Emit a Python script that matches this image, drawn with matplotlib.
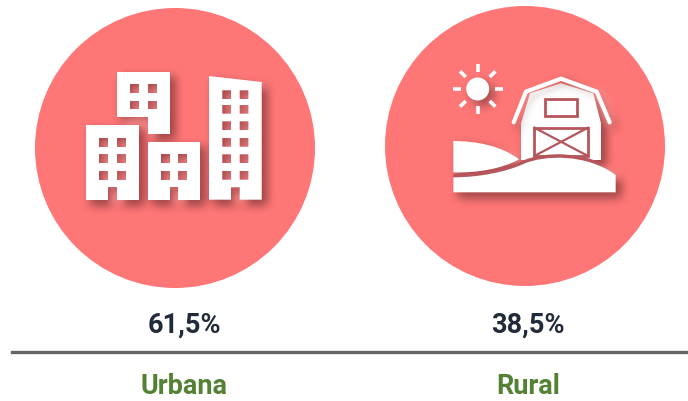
import numpy as np
import matplotlib
matplotlib.use("Agg")
import matplotlib.pyplot as plt
from matplotlib.patches import Circle, PathPatch, Rectangle
from matplotlib.path import Path

categories = ["Urbana", "Rural"]
values = ["61,5%", "38,5%"]
label_x = [184, 528]
circle_x = [175, 525]
circle_y = [148, 146]

CIRCLE = "#FF7676"
INK = "#222B3A"
GREEN = "#548235"
GAP = "#B4565C"


def blur(img, dpi, radius=4, alpha=0.55):
    # soft shadow, box blur run a few times
    pad = radius * 4
    out = np.pad(img, ((pad, pad), (pad, pad), (0, 0)))
    kernel = np.ones(2 * radius + 1) / (2 * radius + 1)
    for _ in range(3):
        out = np.apply_along_axis(np.convolve, 0, out, kernel, mode="same")
        out = np.apply_along_axis(np.convolve, 1, out, kernel, mode="same")
    out[..., 3] *= alpha
    return out, -pad, -pad


def rect(x0, y0, x1, y1):
    return [(x0, y0), (x1, y0), (x1, y1), (x0, y1)]


def poly_path(outer, holes=()):
    verts, codes = [], []
    for ring, flip in [(outer, False)] + [(h, True) for h in holes]:
        pts = ring[::-1] if flip else ring
        verts += pts + [pts[0]]
        codes += [Path.MOVETO] + [Path.LINETO] * (len(pts) - 1) + [Path.CLOSEPOLY]
    return Path(verts, codes)


def zoomed(pts, x0=440, y0=60):
    return [(x0 + x / 3, y0 + y / 3) for x, y in pts]


# city icon
rows_a = [(138, 146.7), (154.3, 163), (171, 179.7)]
rows_tall = [(90.3, 99), (105, 113.7), (121.3, 130), (138, 146.7), (154.3, 163), (171, 179.7)]
b_top = poly_path(
    [(117, 72), (169.7, 72), (169.7, 133.7), (147.7, 133.7), (147.7, 117.3), (117, 117.3)],
    [rect(x, y, x + 8.7, y + 8.7) for x in (130.3, 148) for y in (84, 100.7)],
)
b_left = poly_path(
    [(86.3, 125.3), (139, 125.3), (139, 199.7), (117, 199.7), (117, 187.3), (108.3, 187.3), (108.3, 199.7), (86.3, 199.7)],
    [rect(x, y0, x + 8.7, y1) for x in (99.3, 117) for y0, y1 in rows_a],
)
b_mid = poly_path(
    [(147.7, 142), (200.3, 142), (200.3, 199.7), (178.3, 199.7), (178.3, 187.3), (169.7, 187.3), (169.7, 199.7), (147.7, 199.7)],
    [rect(x, y0, x + 8.7, y1) for x in (161, 178.3) for y0, y1 in rows_a[1:]],
)
b_tall = poly_path(
    [(209, 76), (261.7, 82), (261.7, 199.7), (239.7, 199.7), (239.7, 187.3), (231, 187.3), (231, 199.7), (209, 199.7)],
    [rect(x, y0, x + 8.7, y1) for x in (222.3, 239.7) for y0, y1 in rows_tall],
)
city = [b_top, b_left, b_mid, b_tall]

C4 = Path.CURVE4
hill_back = Path(
    zoomed([(40, 243), (110, 243), (185, 258), (237, 298), (190, 325), (110, 340), (40, 337), (40, 243)]),
    [Path.MOVETO, C4, C4, C4, C4, C4, C4, Path.CLOSEPOLY],
)
hill_front = Path(
    zoomed([(40, 352), (120, 352), (200, 335), (250, 312), (310, 285), (440, 280), (527, 345),
            (527, 397), (40, 397), (40, 352)]),
    [Path.MOVETO, C4, C4, C4, C4, C4, C4, Path.LINETO, Path.LINETO, Path.CLOSEPOLY],
)
barn_body = poly_path(zoomed([(243, 190), (270, 100), (363, 70), (460, 100), (483, 190), (483, 300), (243, 300)]))
sun = Circle((477.7, 89), 11.5)
roof = zoomed([(221, 187), (258, 95), (363, 56), (470, 95), (509, 187)])
rays = [(np.cos(a), np.sin(a)) for a in np.deg2rad(np.arange(0, 360, 45))]
door = rect(*zoomed([(283, 203), (444, 288)])[0], *zoomed([(283, 203), (444, 288)])[1])
loft = rect(*zoomed([(315, 117), (410, 168)])[0], *zoomed([(315, 117), (410, 168)])[1])

fig = plt.figure(figsize=(6.88, 4.01), dpi=100)
ax = fig.add_axes([0, 0, 1, 1])
ax.set_xlim(0, 688)
ax.set_ylim(401, 0)
ax.axis("off")

for cx, cy in zip(circle_x, circle_y):
    ax.add_patch(Circle((cx, cy), 140, fc=CIRCLE, ec="none"))


def shifted(path, dx=5, dy=5):
    return Path(path.vertices + [dx, dy], path.codes)


def add_shape(path, **kw):
    ax.add_patch(PathPatch(path, **kw))


# shadows first, all icon parts in one dark tone
shadow_parts = city + [hill_back, hill_front, barn_body]
for p in shadow_parts:
    patch = PathPatch(shifted(p), fc="#5a1a20", ec="none")
    patch.set_agg_filter(blur)
    patch.set_rasterized(True)
    ax.add_patch(patch)
roof_sh = np.array(roof) + 5
line, = ax.plot(roof_sh[:, 0], roof_sh[:, 1], color="#5a1a20", lw=3, solid_capstyle="round")
line.set_agg_filter(blur)
sun_sh = Circle((482.7, 94), 11.5, fc="#5a1a20", ec="none")
sun_sh.set_agg_filter(blur)
ax.add_patch(sun_sh)

for p in city + [hill_back, barn_body]:
    add_shape(p, fc="white", ec="none")

# barn details
ax.add_patch(PathPatch(poly_path(loft), fc="white", ec=GAP, lw=2))
ax.add_patch(PathPatch(poly_path(door), fc="white", ec=GAP, lw=2))
d = np.array(door)
ax.plot([d[0, 0], d[2, 0]], [d[0, 1], d[2, 1]], color=GAP, lw=1.6)
ax.plot([d[1, 0], d[3, 0]], [d[1, 1], d[3, 1]], color=GAP, lw=1.6)
# dark band above the front hill, stops at the barn's right wall
band = PathPatch(shifted(hill_front, 0, -3.5), fc=GAP, ec="none")
ax.add_patch(band)
band.set_clip_path(Rectangle((440, 100), 161, 120, transform=ax.transData))
add_shape(hill_front, fc="white", ec="none")

r = np.array(roof)
ax.plot(r[:, 0], r[:, 1], color="white", lw=3, solid_capstyle="round", solid_joinstyle="miter")
ax.add_patch(Circle((477.7, 89), 11.5, fc="white", ec="none"))
for ux, uy in rays:
    ax.plot([477.7 + 17 * ux, 477.7 + 25 * ux], [89 + 17 * uy, 89 + 25 * uy],
            color="white", lw=2.6, solid_capstyle="butt")

ax.plot([12, 688], [352, 352], color="#666666", lw=2.4)

for x, cat, val in zip(label_x, categories, values):
    ax.text(x, 325, val, ha="center", va="center", color=INK, fontsize=19.5,
            fontweight="bold", family="Roboto")
    ax.text(x, 387, cat, ha="center", va="center", color=GREEN, fontsize=19.5,
            fontweight="bold", family="Roboto")

fig.savefig("out.png", dpi=100)
